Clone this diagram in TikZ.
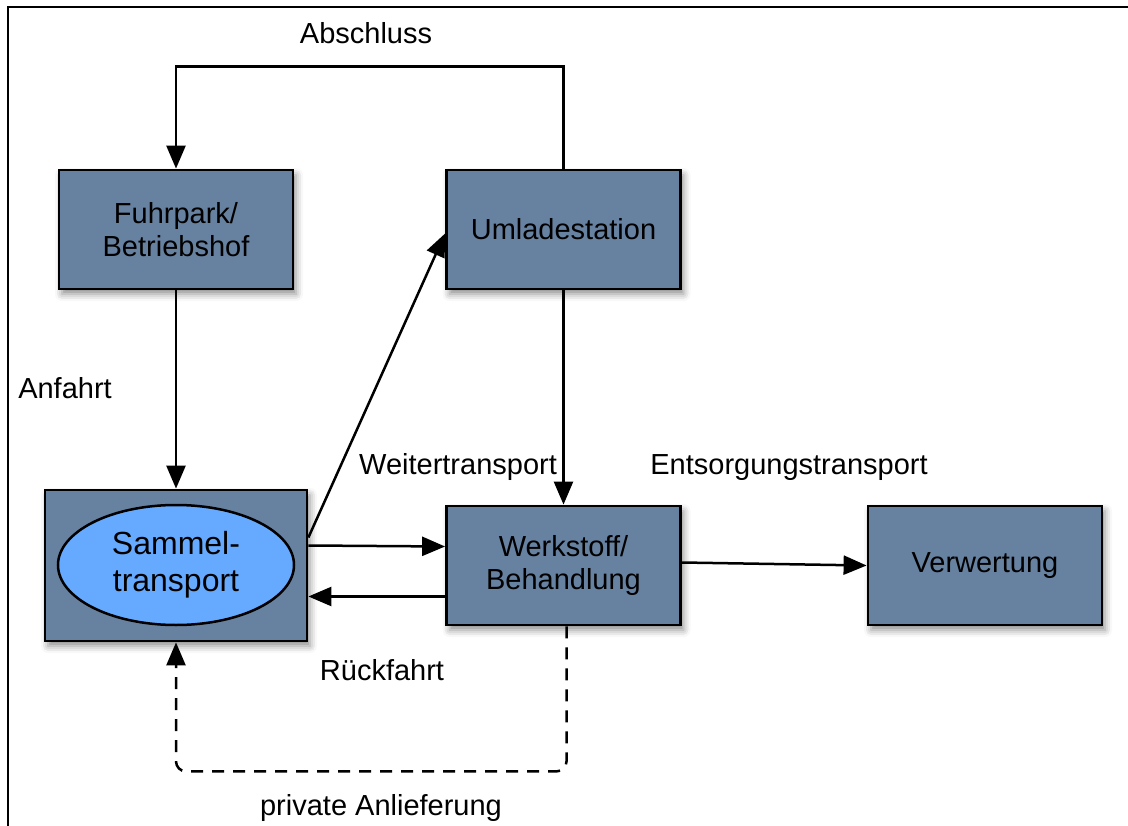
\documentclass[tikz,border=0pt]{standalone}
\usepackage{fontspec}
\setmainfont{Liberation Sans}
\usetikzlibrary{arrows.meta,shadows.blur,shapes.geometric}
\definecolor{boxfill}{RGB}{103,129,160}
\definecolor{ovalfill}{RGB}{102,170,255}

\begin{document}
\begin{tikzpicture}[x=1pt,y=-1pt,
  stationbox/.style={draw=black, line width=2.8pt, fill=boxfill,
    minimum width=234pt, minimum height=119pt, inner sep=0pt,
    align=center, font=\fontsize{29}{33}\selectfont,
    blur shadow={shadow xshift=3pt, shadow yshift=-5pt, shadow blur radius=7pt, shadow opacity=45}},
  oval/.style={ellipse, draw=black, line width=2.5pt, fill=ovalfill,
    minimum width=236pt, minimum height=120pt, inner sep=0pt,
    align=center, font=\fontsize{32}{37}\selectfont},
  flow/.style={line width=2.5pt, -{Triangle[length=23pt,width=19pt]}},
  privflow/.style={flow, dash pattern=on 12pt off 9pt, rounded corners=10pt},
  tag/.style={anchor=base, inner sep=0pt, font=\fontsize{29}{33}\selectfont}]

\useasboundingbox (0,0) rectangle (1128,826);

% frame
\draw[line width=2.5pt] (8,826) -- (8,7) -- (1128,7);

% stations
\node[stationbox] (fp) at (176,229.5) {Fuhrpark/\\Betriebshof};
\node[stationbox] (um) at (563.5,229.5) {Umladestation};
\node[stationbox, minimum width=262pt, minimum height=151pt] (sam) at (176,565.5) {};
\node[oval] (samoval) at (176,565) {Sammel-\\transport};
\node[stationbox] (ws) at (563.5,565.5) {Werkstoff/\\Behandlung};
\node[stationbox] (vw) at (985,565.5) {Verwertung};

% connectors
\draw[flow] (um.north) -- ++(0,-102) -| (fp.north);
\draw[flow] (fp.south) -- (sam.north);
\draw[flow] ([yshift=28pt]sam.east) -- ([yshift=-4pt]um.west);
\draw[flow] (um.south) -- (ws.north);
\draw[flow] ([yshift=20pt]sam.east) -- ([yshift=19pt]ws.west);
\draw[flow] ([yshift=-31pt]ws.west) -- ([yshift=-31pt]sam.east);
\draw[flow] ([yshift=3pt]ws.east) -- (vw.west);
\draw[privflow] ([xshift=3pt]ws.south) -- ++(0,145) -| (sam.south);

% labels
\node[tag] (tAbschluss) at (366,44) {Abschluss};
\node[tag] (tAnfahrt) at (65,399) {Anfahrt};
\node[tag] (tWeiter) at (458,474) {Weitertransport};
\node[tag] (tEntsorg) at (789,474) {Entsorgungstransport};
\node[tag] (tRueck) at (382,680) {Rückfahrt};
\node[tag] (tPrivat) at (381,815) {private Anlieferung};
\end{tikzpicture}
\end{document}
